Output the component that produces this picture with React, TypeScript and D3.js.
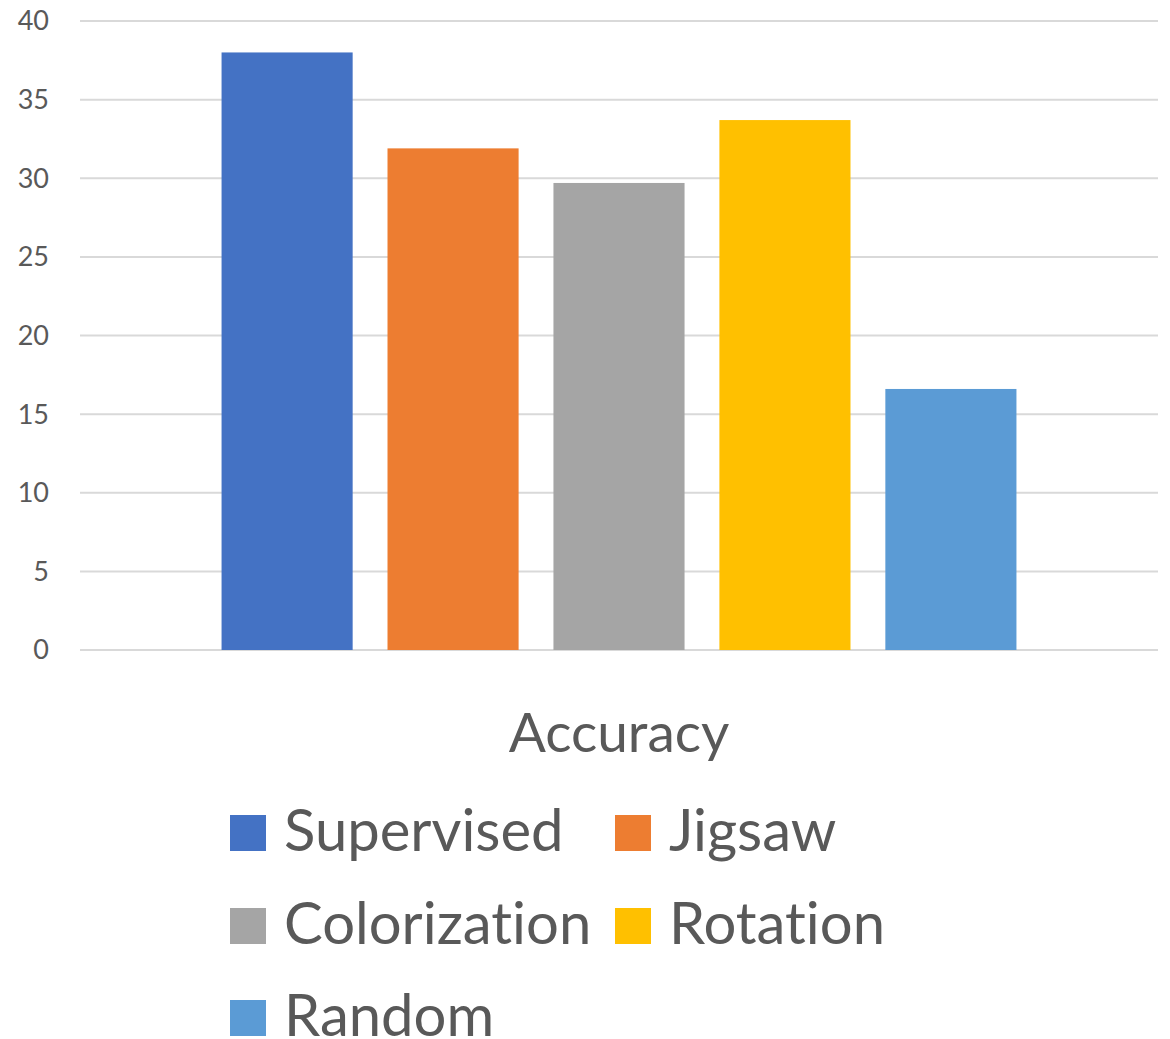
import React, { useEffect, useRef } from "react";
import * as d3 from "d3";

const categories = ["Accuracy"];
const seriesNames = ["Supervised", "Jigsaw", "Colorization", "Rotation", "Random"];
const seriesValues = [38, 31.9, 29.7, 33.7, 16.6];
const seriesColors = ["#4472C4", "#ED7D31", "#A5A5A5", "#FFC000", "#5B9BD5"];
const yTicks = [0, 5, 10, 15, 20, 25, 30, 35, 40];

const W = 1170;
const H = 1039;
const FONT = "Lato, 'Open Sans', sans-serif";
const TEXT = "#595959";

export default function App() {
  const ref = useRef<SVGSVGElement>(null);

  useEffect(() => {
    const svg = d3.select(ref.current);
    svg.selectAll("*").remove();

    const left = 80, right = 1158, top = 21, bottom = 650;
    const y = d3.scaleLinear().domain([0, 40]).range([bottom, top]);
    const x = d3.scaleBand<string>().domain(seriesNames).range([left, right])
      .paddingInner(0.21).paddingOuter(0.853);

    // gridlines
    svg.append("g").selectAll("line").data(yTicks).join("line")
      .attr("x1", left).attr("x2", right)
      .attr("y1", d => y(d)).attr("y2", d => y(d))
      .attr("stroke", "#D9D9D9").attr("stroke-width", 2);

    // tick labels
    svg.append("g").selectAll("text").data(yTicks).join("text")
      .attr("x", 49).attr("y", d => y(d))
      .attr("dy", "0.35em")
      .attr("text-anchor", "end")
      .attr("font-family", FONT).attr("font-size", 27)
      .attr("fill", TEXT)
      .text(d => String(d));

    // bars
    svg.append("g").selectAll("rect").data(seriesNames).join("rect")
      .attr("x", d => x(d)!)
      .attr("width", x.bandwidth())
      .attr("y", (d, i) => y(seriesValues[i]))
      .attr("height", (d, i) => y(0) - y(seriesValues[i]))
      .attr("fill", (d, i) => seriesColors[i]);

    // category label
    svg.append("text")
      .attr("x", (left + right) / 2).attr("y", 752)
      .attr("text-anchor", "middle")
      .attr("font-family", FONT).attr("font-size", 55)
      .attr("fill", TEXT)
      .text(categories[0]);

    // legend
    const colX = [230, 615];
    const rowY = [833, 926, 1018];
    const lg = svg.append("g");
    seriesNames.forEach((name, i) => {
      const cx = colX[i % 2];
      const cy = rowY[Math.floor(i / 2)];
      lg.append("rect").attr("x", cx).attr("y", cy - 18).attr("width", 36).attr("height", 36)
        .attr("fill", seriesColors[i]);
      lg.append("text").attr("x", cx + 54).attr("y", cy + 18)
        .attr("font-family", FONT).attr("font-size", 58)
        .style("font-variant-ligatures", "none")
        .attr("fill", TEXT).text(name);
    });
  }, []);

  return (
    <svg ref={ref} width={W} height={H}
      style={{ position: "absolute", left: 0, top: 0, background: "#fff" }} />
  );
}
